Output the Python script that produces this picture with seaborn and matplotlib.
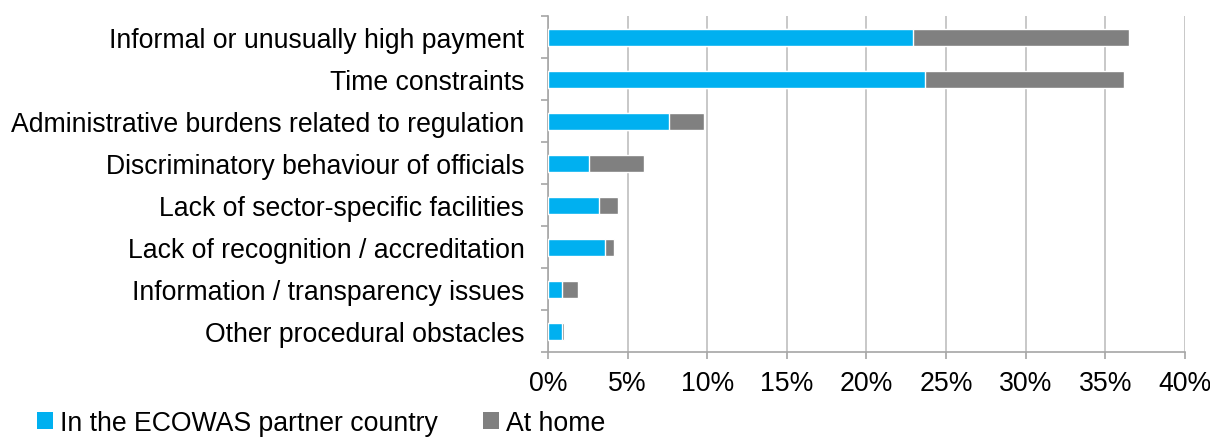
import matplotlib
matplotlib.use("Agg")
import matplotlib.pyplot as plt
import matplotlib.ticker as mticker
from matplotlib.patches import Patch
import numpy as np
import pandas as pd
import seaborn as sns

categories = [
    "Informal or unusually high payment",
    "Time constraints",
    "Administrative burdens related to regulation",
    "Discriminatory behaviour of officials",
    "Lack of sector-specific facilities",
    "Lack of recognition / accreditation",
    "Information / transparency issues",
    "Other procedural obstacles",
]
partner_country = [22.9, 23.7, 7.6, 2.6, 3.2, 3.6, 0.9, 0.85]
at_home = [13.6, 12.5, 2.2, 3.45, 1.2, 0.55, 1.0, 0.15]
series_names = ["In the ECOWAS partner country", "At home"]
xticks = [0, 5, 10, 15, 20, 25, 30, 35, 40]

BLUE = "#00B0F0"
GREY = "#808080"
AXIS_GREY = "#A6A6A6"
FS = 19.2

sns.set_theme(style="white")
plt.rcParams["font.family"] = ["Liberation Sans", "DejaVu Sans"]
plt.rcParams["text.color"] = "black"

df = pd.DataFrame({
    "category": categories,
    "partner": partner_country,
    "home": at_home,
})
df["total"] = df["partner"] + df["home"]

fig = plt.figure(figsize=(12.10, 4.39), dpi=100)
ax = fig.add_axes([0.4529, 0.1952, 0.9793 - 0.4529, 0.9606 - 0.1952])

# stacked bars: totals in grey, partner-country share drawn over them
sns.barplot(data=df, x="total", y="category", color=GREY, width=0.4,
            saturation=1, ax=ax, zorder=3)
sns.barplot(data=df, x="partner", y="category", color=BLUE, width=0.4,
            saturation=1, ax=ax, zorder=4)

ax.set_xlim(0, 40)
ax.set_ylim(len(categories) - 0.5, -0.5)
ax.set_xticks(xticks)
ax.xaxis.set_major_formatter(mticker.FuncFormatter(lambda v, p: f"{v:.0f}%"))
ax.set_xlabel("")
ax.set_ylabel("")

ax.grid(axis="x", color="#BFBFBF", linewidth=1.2, zorder=0)
ax.grid(axis="y", visible=False)
ax.set_axisbelow(True)

for s in ["top", "right"]:
    ax.spines[s].set_visible(False)
for s in ["left", "bottom"]:
    ax.spines[s].set_color(AXIS_GREY)
    ax.spines[s].set_linewidth(1.2)

# category boundary ticks on the y axis
ax.set_yticks(np.arange(-0.5, len(categories) + 0.5, 1.0), minor=True)
ax.tick_params(axis="y", which="major", length=0, pad=17, labelsize=FS,
               labelcolor="black")
ax.tick_params(axis="y", which="minor", length=5, width=1.2, color=AXIS_GREY,
               direction="out", left=True)
ax.tick_params(axis="x", which="major", length=5, width=1.2, color=AXIS_GREY,
               direction="out", bottom=True, pad=8, labelsize=FS,
               labelcolor="black")

handles = [Patch(facecolor=BLUE, edgecolor="none"),
           Patch(facecolor=GREY, edgecolor="none")]
fig.legend(handles, series_names, loc="lower left",
           bbox_to_anchor=(0.011, -0.05), ncol=2, frameon=False,
           fontsize=FS, handlelength=0.6, handleheight=0.6,
           handletextpad=0.25, columnspacing=1.7, labelcolor="black")

fig.savefig("out.png", dpi=100)
